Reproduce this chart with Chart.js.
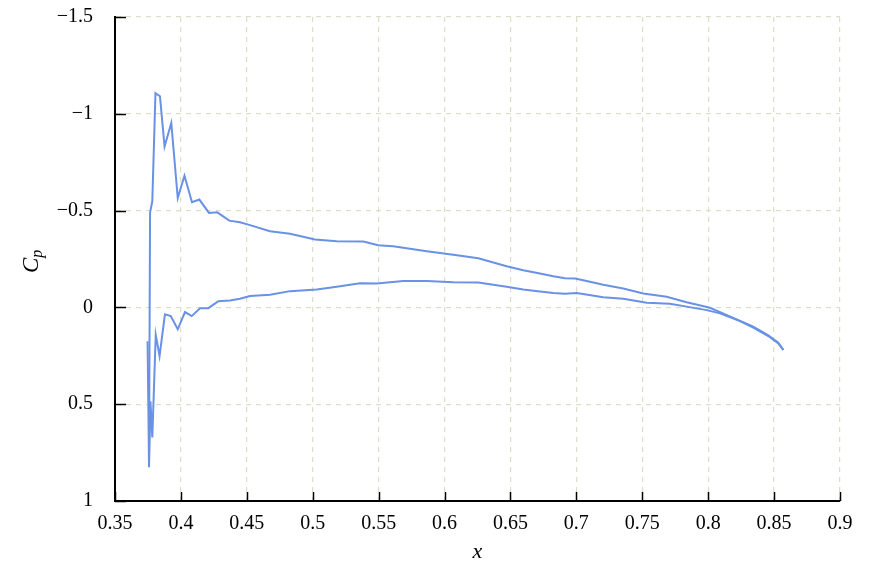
<!DOCTYPE html>
<html>
<head>
<meta charset="utf-8">
<script src="https://cdn.jsdelivr.net/npm/chart.js@4"></script>
<style>
    body { margin: 0; background: #ffffff; }
    canvas { display: block; }
</style>
</head>
<body>
<canvas id="cp-chart" width="869" height="563"></canvas>
<script>
// Upper surface (suction side), leading edge -> trailing edge.
let upper_x = [0.3758, 0.3766, 0.3783, 0.3807, 0.3841, 0.3876, 0.3927, 0.3976, 0.4027, 0.4084,
    0.4140, 0.4213, 0.4276, 0.4367, 0.4448, 0.4524, 0.4676, 0.4828, 0.5017, 0.5182,
    0.5384, 0.5497, 0.5611, 0.5865, 0.6066, 0.6256, 0.6471, 0.6597, 0.6724, 0.6825,
    0.6914, 0.6990, 0.7078, 0.7204, 0.7356, 0.7508, 0.7685, 0.7837, 0.8014, 0.8090,
    0.8216, 0.8342, 0.8456, 0.8532, 0.8570];
let upper_cp = [0.825, -0.490, -0.548, -1.107, -1.091, -0.831, -0.952, -0.565, -0.680, -0.543,
    -0.557, -0.488, -0.491, -0.448, -0.440, -0.425, -0.393, -0.380, -0.351, -0.342,
    -0.340, -0.321, -0.316, -0.290, -0.272, -0.254, -0.213, -0.192, -0.175, -0.161,
    -0.151, -0.149, -0.136, -0.117, -0.098, -0.072, -0.055, -0.027, 0.002, 0.024,
    0.062, 0.099, 0.144, 0.182, 0.220];

// Lower surface (pressure side), leading edge -> trailing edge.
let lower_x = [0.3747, 0.3753, 0.3758, 0.3769, 0.3783, 0.3809, 0.3838, 0.3879, 0.3923, 0.3976,
    0.4031, 0.4082, 0.4145, 0.4208, 0.4284, 0.4372, 0.4448, 0.4524, 0.4676, 0.4828,
    0.5030, 0.5182, 0.5359, 0.5485, 0.5687, 0.5865, 0.6066, 0.6256, 0.6471, 0.6597,
    0.6724, 0.6825, 0.6914, 0.7003, 0.7204, 0.7356, 0.7534, 0.7710, 0.7837, 0.7989,
    0.8090, 0.8241, 0.8342, 0.8456, 0.8532, 0.8570];
let lower_cp = [0.175, 0.500, 0.825, 0.485, 0.672, 0.142, 0.251, 0.036, 0.045, 0.113,
    0.024, 0.045, 0.004, 0.004, -0.032, -0.036, -0.045, -0.059, -0.065, -0.084,
    -0.093, -0.107, -0.125, -0.124, -0.136, -0.136, -0.130, -0.129, -0.107, -0.093,
    -0.082, -0.074, -0.071, -0.074, -0.053, -0.045, -0.024, -0.019, -0.004, 0.014,
    0.031, 0.071, 0.105, 0.148, 0.186, 0.220];

// Axis ranges and tick steps.
let x_range = [0.35, 0.9];
let x_step = 0.05;
let y_range = [-1.5, 1];
let y_step = 0.5;

let line_color = "rgb(105, 145, 228)";
let grid_color = "rgb(218, 224, 200)";
let font_family = "'Liberation Serif', 'DejaVu Serif', serif";

/**
 * Zip two arrays into {x, y} points.
 * @param {Array<Number>} xs - x values.
 * @param {Array<Number>} ys - y values.
 * @returns {Array<Object>} points.
 */
function to_points(xs, ys) {
    return xs.map((x, i) => ({ x: x, y: ys[i] }));
}

/**
 * Format a tick value with a real minus sign.
 * @param {Number} value - tick value.
 * @returns {String} label.
 */
function format_tick(value) {
    let text = Number(value.toFixed(2)).toString();
    return text.replace("-", "\u2212");
}

// Ticks that point into the plot, like the original.
let inner_ticks = {
    id: "inner_ticks",
    afterDraw(chart) {
        let ctx = chart.ctx;
        let area = chart.chartArea;
        ctx.save();
        ctx.strokeStyle = "#000000";
        ctx.lineWidth = 1.5;
        chart.scales.y.ticks.forEach((tick) => {
            let py = Math.round(chart.scales.y.getPixelForValue(tick.value)) + 0.5;
            ctx.beginPath();
            ctx.moveTo(area.left, py);
            ctx.lineTo(area.left + 11, py);
            ctx.stroke();
        });
        chart.scales.x.ticks.forEach((tick) => {
            let px = Math.round(chart.scales.x.getPixelForValue(tick.value)) + 0.5;
            ctx.beginPath();
            ctx.moveTo(px, area.bottom);
            ctx.lineTo(px, area.bottom - 9);
            ctx.stroke();
        });
        ctx.restore();
    }
};

// Axis titles: italic x, and C with subscript p.
let axis_titles = {
    id: "axis_titles",
    afterDraw(chart) {
        let ctx = chart.ctx;
        let area = chart.chartArea;
        ctx.save();
        ctx.fillStyle = "#000000";
        ctx.textAlign = "center";
        ctx.textBaseline = "alphabetic";
        ctx.font = `italic 22px ${font_family}`;
        ctx.fillText("x", (area.left + area.right) / 2, 558);

        ctx.translate(38, 273);
        ctx.rotate(-Math.PI / 2);
        ctx.textAlign = "left";
        ctx.font = `italic 23px ${font_family}`;
        let c_width = ctx.measureText("C").width;
        ctx.fillText("C", 0, 0);
        ctx.font = `italic 16px ${font_family}`;
        ctx.fillText("p", c_width, 4);
        ctx.restore();
    }
};

/**
 * Pin the plot box to the same place as the original.
 * @param {Object} scale - Chart.js scale.
 * @param {String} side - "width" or "height".
 * @param {Number} size - size in pixels.
 * @returns {void} nothing.
 */
function fix_scale(scale, side, size) {
    scale[side] = size;
    scale.paddingTop = 0;
    scale.paddingBottom = 0;
}

/**
 * Draw the pressure coefficient chart.
 * @returns {void} nothing.
 */
function draw_chart() {
    let chart_el = document.querySelector("#cp-chart");
    if (chart_el === null) {
        throw Error("failed finding cp chart");
    }

    let series_style = {
        showLine: true,
        borderColor: line_color,
        borderWidth: 2,
        pointRadius: 0,
        fill: false,
        tension: 0
    };

    let tick_font = { family: font_family, size: 20 };

    new Chart(chart_el, {
        type: "scatter",
        data: {
            datasets: [
                Object.assign({ label: "upper", data: to_points(upper_x, upper_cp) }, series_style),
                Object.assign({ label: "lower", data: to_points(lower_x, lower_cp) }, series_style)
            ]
        },
        options: {
            responsive: false,
            animation: false,
            devicePixelRatio: 1,
            layout: { padding: { top: 17, right: 29, bottom: 0, left: 0 } },
            plugins: {
                legend: { display: false },
                tooltip: { enabled: false }
            },
            scales: {
                x: {
                    type: "linear",
                    min: x_range[0],
                    max: x_range[1],
                    afterFit: (scale) => fix_scale(scale, "height", 62),
                    border: { display: true, color: "#000000", width: 2, dash: [5, 5] },
                    grid: {
                        color: grid_color,
                        lineWidth: 1.2,
                        drawTicks: false
                    },
                    ticks: {
                        stepSize: x_step,
                        padding: 11,
                        color: "#000000",
                        font: tick_font,
                        callback: (value) => format_tick(value),
                        maxRotation: 0
                    }
                },
                y: {
                    type: "linear",
                    reverse: true,
                    min: y_range[0],
                    max: y_range[1],
                    afterFit: (scale) => fix_scale(scale, "width", 115),
                    border: { display: true, color: "#000000", width: 2, dash: [5, 5] },
                    grid: {
                        color: grid_color,
                        lineWidth: 1.2,
                        drawTicks: false
                    },
                    ticks: {
                        stepSize: y_step,
                        padding: 22,
                        color: "#000000",
                        font: tick_font,
                        callback: (value) => format_tick(value)
                    }
                }
            }
        },
        plugins: [inner_ticks, axis_titles]
    });
}

window.onload = () => {
    draw_chart();
}
</script>
</body>
</html>
